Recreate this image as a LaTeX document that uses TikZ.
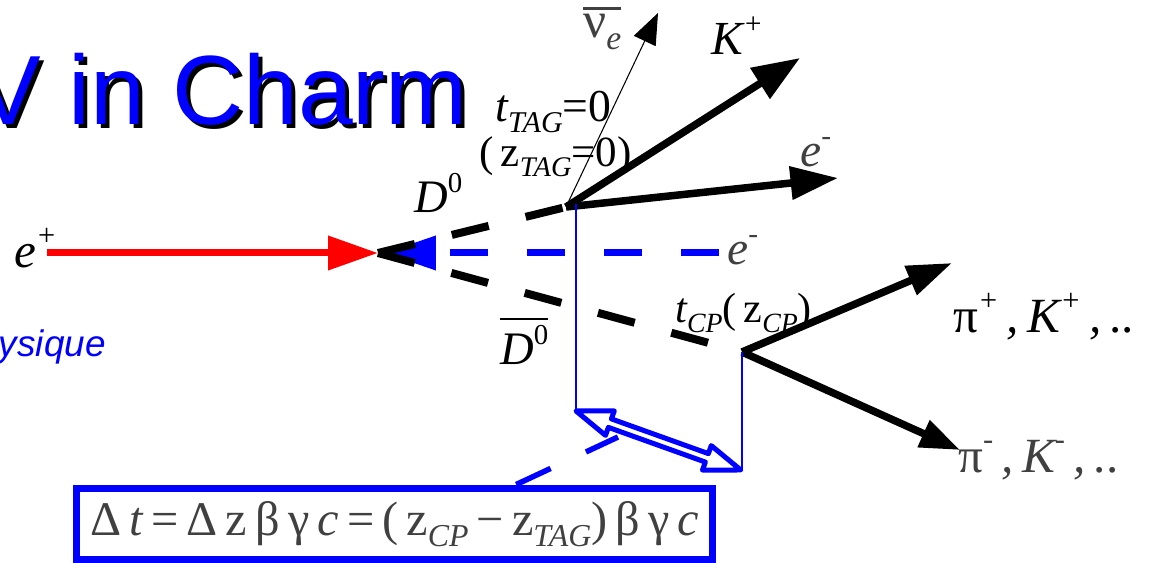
\documentclass[tikz,border=0pt]{standalone}
\usepackage{fontspec}
\setmainfont{Liberation Serif}
\newfontfamily\titlefont{Liberation Sans}
\usepackage{graphicx}
\usetikzlibrary{arrows.meta,calc}
\definecolor{labgray}{gray}{0.25}
\newcommand{\supx}[1]{\raisebox{0.45em}{\scalebox{0.62}{#1}}}
\newcommand{\subx}[1]{\raisebox{-0.22em}{\scalebox{0.66}{#1}}}
\newcommand{\ovl}[1]{\leavevmode\vbox{\hrule height 1.6pt\kern 2.5pt\hbox{#1}}}
\tikzset{
  beam/.style={line width=0.14cm},
  prong/.style={line width=0.15cm, -{Triangle[length=0.95cm, width=0.7cm]}},
  meson/.style={line width=0.16cm, dash pattern=on 0.76cm off 0.76cm},
  lab/.style={inner sep=0, anchor=base west, font=\fontsize{25}{25}\selectfont\itshape},
  vline/.style={blue, line width=0.6pt},
}

\begin{document}
\begin{tikzpicture}[x=0.02cm, y=-0.02cm]
  \useasboundingbox (0,0) rectangle (1152,563);
  % title with its shadow
  \node[inner sep=0, anchor=base east, font=\titlefont\fontsize{56}{56}\selectfont] (tshadow) at (472,129) {V in Charm};
  \node[inner sep=0, anchor=base east, blue, font=\titlefont\fontsize{56}{56}\selectfont] (title) at (468,125) {V in Charm};
  \node[inner sep=0, anchor=base east, blue, font=\titlefont\itshape\fontsize{21}{21}\selectfont] (phys) at (106,357) {ysique};

  % vertices
  \coordinate (ip) at (378,253);
  \coordinate (tag) at (566,207);
  \coordinate (cp) at (742,352);
  \coordinate (beamL) at (47,253);
  \coordinate (beamR) at (719,253);
  \coordinate (kp) at (800,58);
  \coordinate (et) at (838,178);
  \coordinate (nu) at (658,13);
  \coordinate (pip) at (952,263);
  \coordinate (pim) at (960,450);
  \coordinate (zt) at (576,204);
  \coordinate (dA) at (576,411);
  \coordinate (dB) at (742,470);
  \coordinate (dlink) at (618,437);

  % beams
  \draw[beam, red, -{Triangle[length=1cm, width=0.66cm]}] (beamL) -- (ip);
  \draw[beam, blue, dash pattern=on 0.76cm off 0.78cm, -{Triangle[length=1.04cm, width=0.66cm]}] (beamR) -- ($(ip)+(6,0)$);

  % D mesons
  \draw[meson] (ip) -- (tag);
  \draw[meson] (ip) -- (cp);

  % decay products
  \draw[line width=0.6pt, -{Triangle[length=0.62cm, width=0.48cm]}] (tag) -- (nu);
  \draw[prong] (tag) -- (kp);
  \draw[prong, -{Triangle[length=0.95cm, width=0.64cm]}] (tag) -- (et);
  \draw[prong, -{Triangle[length=0.9cm, width=0.6cm]}] (cp) -- (pip);
  \draw[prong, -{Triangle[length=0.8cm, width=0.56cm]}] (cp) -- (pim);

  % decay lengths
  \draw[vline] (zt) -- (dA);
  \draw[vline] (cp) -- (dB);
  \begin{scope}[shift={(dA)}, rotate=-19.7]
    \draw[blue, line width=0.1cm, line join=round, fill=white]
      (0,0) -- (36,13) -- (36,4.5) -- (139,4.5) -- (139,13) -- (175,0)
      -- (139,-13) -- (139,-4.5) -- (36,-4.5) -- (36,-13) -- cycle;
  \end{scope}

  % formula box
  \node[draw=blue, line width=0.14cm, inner sep=0, minimum width=12.74cm, minimum height=1.44cm,
        text=labgray, font=\fontsize{27.5}{27.5}\selectfont] (box) at (394.5,524)
    {Δ\,\textit{t}\,=\,Δ\,z\,β\,γ\,\textit{c}\,=\,(\,z\subx{\textit{CP}}\,−\,z\subx{\textit{TAG}})\,β\,γ\,\textit{c}};
  \draw[blue, line width=0.11cm, dash pattern=on 0.76cm off 0.78cm] ($(box.north west)!0.689!(box.north east)$) -- (dlink);

  % labels
  \node[lab, font=\fontsize{28}{28}\selectfont\itshape] (ep) at (14,268) {e\supx{+}};
  \node[lab, font=\fontsize{26.5}{26.5}\selectfont\itshape] (dz) at (414,213) {D\supx{\upshape 0}};
  \node[lab, font=\fontsize{26.5}{26.5}\selectfont\itshape] (dzb) at (500,365) {\ovl{D\supx{\upshape 0}}};
  \node[lab, font=\fontsize{27}{27}\selectfont\itshape] (kpl) at (711,55) {K\supx{+}};
  \node[lab, text=labgray, font=\fontsize{29}{29}\selectfont] (nul) at (583,38) {\ovl{ν\subx{\itshape e}}};
  \node[lab, text=labgray, font=\fontsize{27}{27}\selectfont\itshape] (etl) at (800,167) {e\supx{-}};
  \node[lab, text=labgray, font=\fontsize{27}{27}\selectfont\itshape] (eml) at (727,265) {e\supx{-}};
  \node[lab, font=\fontsize{26}{26}\selectfont\itshape] (ttag) at (495,122) {t\subx{TAG}{\upshape =0}};
  \node[lab, font=\fontsize{24.5}{24.5}\selectfont] (ztag) at (479,167) {(\,z\subx{\itshape TAG}=0)};
  \node[lab, font=\fontsize{24}{24}\selectfont\itshape] (tcp) at (675,323) {t\subx{CP}{\upshape (\,z}\subx{CP}{\upshape )}};
  \node[lab, font=\fontsize{28}{28}\selectfont\itshape] (pipl) at (953,333) {{\upshape π}\supx{+}\,,\,K\supx{+}\,,\,{\upshape ..}};
  \node[lab, text=labgray, font=\fontsize{28}{28}\selectfont\itshape] (piml) at (958,472) {{\upshape π}\supx{-}\,,\,K\supx{-}\,,\,{\upshape ..}};
\end{tikzpicture}
\end{document}
